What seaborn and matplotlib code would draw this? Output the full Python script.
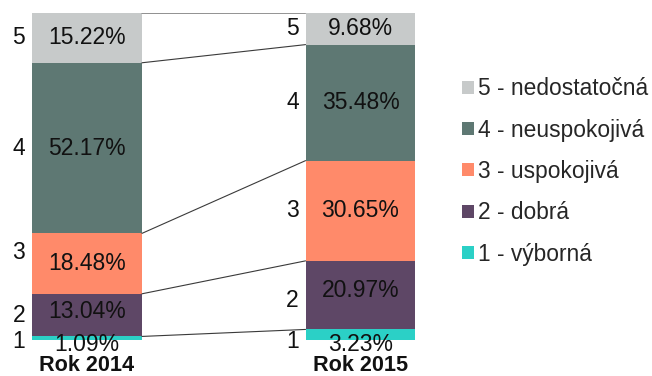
import matplotlib
matplotlib.use("Agg")
import matplotlib.pyplot as plt
from matplotlib.patches import Patch
import seaborn as sns
import pandas as pd
import numpy as np

years = ["Rok 2014", "Rok 2015"]
grades = ["1", "2", "3", "4", "5"]
grade_names = ["1 - výborná", "2 - dobrá", "3 - uspokojivá", "4 - neuspokojivá", "5 - nedostatočná"]
share_2014 = [1.09, 13.04, 18.48, 52.17, 15.22]
share_2015 = [3.23, 20.97, 30.65, 35.48, 9.68]
colors = ["#2BD0C6", "#5E4766", "#FF8A6A", "#5E7873", "#C7CACA"]

sns.set_theme(style="white")
plt.rcParams["font.family"] = ["Liberation Sans", "DejaVu Sans"]
FS = 16.5

fig = plt.figure(figsize=(6.52, 3.76), dpi=100)
ax = fig.add_axes([0, 36 / 376, 430 / 652, 327 / 376])

shares = np.array([share_2014, share_2015])
cum = np.cumsum(shares, axis=1)
bar_w = 0.402

# stacked bars: draw cumulative totals from the top layer down
for k in range(len(grades) - 1, -1, -1):
    df = pd.DataFrame({"rok": years, "cum": cum[:, k]})
    sns.barplot(data=df, x="rok", y="cum", order=years, color=colors[k],
                width=bar_w, saturation=1, linewidth=0, ax=ax)

# connector lines between the bars at each segment boundary
for k in range(len(grades)):
    ax.plot([bar_w / 2, 1 - bar_w / 2], [cum[0, k], cum[1, k]],
            color="#3a3a3a", lw=0.8, zorder=1)

# value and grade labels
for i in range(2):
    for k in range(len(grades)):
        lo = cum[i, k] - shares[i, k]
        mid = lo + shares[i, k] / 2
        if k == 0:
            ty = -1.5
            gy = lo - 0.5
        else:
            ty = mid
            gy = mid
        if i == 0 and k == 1:
            ty = mid + 1.0
        if i == 1 and k == 1:
            ty = mid + 1.5
        if i == 0 and k == 2:
            gy = mid + 3.5
        if i == 1 and k == 1:
            gy = mid - 1.5
        ax.text(i, ty, f"{shares[i, k]:.2f}%", ha="center", va="center",
                fontsize=FS, color="#111111")
        ax.text(i - bar_w / 2 - 0.025, gy, grades[k], ha="right", va="center",
                fontsize=FS, color="#111111")

ax.set_xlim(-87 / 273.5, (430 - 87) / 273.5)
ax.set_ylim(0, 100)
ax.set_xlabel("")
ax.set_ylabel("")
ax.set_yticks([])
ax.set_xticks([0, 1])
ax.set_xticklabels(years, fontsize=15.6, fontweight="bold", color="#111111")
ax.tick_params(axis="x", length=0, pad=11)
for s in ax.spines.values():
    s.set_visible(False)
ax.patch.set_alpha(0)

handles = [Patch(facecolor=colors[k], edgecolor="none", label=grade_names[k])
           for k in range(len(grades) - 1, -1, -1)]
fig.legend(handles=handles, loc="upper left", bbox_to_anchor=(453 / 652, 1 - 68 / 376),
           frameon=False, fontsize=16.4, handlelength=0.5, handleheight=0.5,
           handletextpad=0.2, labelspacing=0.81, borderaxespad=0)

fig.savefig("out.png", dpi=100)
